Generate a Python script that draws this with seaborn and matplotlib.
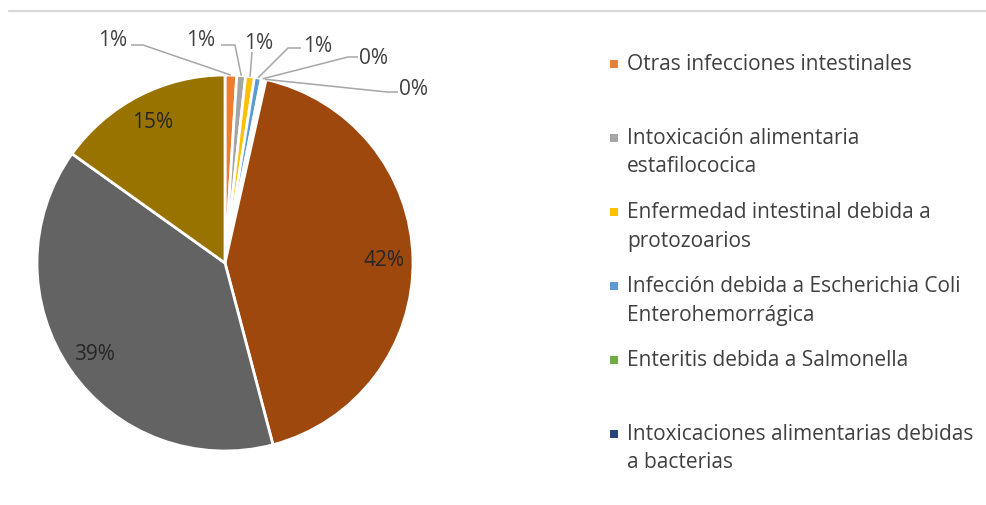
import matplotlib
matplotlib.use("Agg")
import matplotlib.pyplot as plt
from matplotlib.lines import Line2D
from matplotlib.patches import Rectangle
import numpy as np
import seaborn as sns

# Share of intestinal infection cases by cause (percent)
causes = [
    "Otras infecciones intestinales",
    "Intoxicación alimentaria\nestafilococica",
    "Enfermedad intestinal debida a\nprotozoarios",
    "Infección debida a Escherichia Coli\nEnterohemorrágica",
    "Enteritis debida a Salmonella",
    "Intoxicaciones alimentarias debidas\na bacterias",
    "Amebiasis",
    "Infecciones intestinales por otros organismos",
    "Fiebre tifoidea",
]
shares = [1.0, 0.75, 0.75, 0.6, 0.2, 0.2, 42.3, 38.9, 15.1]
colors = ["#ED7D31", "#A5A5A5", "#FFC000", "#5B9BD5", "#70AD47",
          "#264478", "#9E480E", "#636363", "#997300"]
legend_count = 6

sns.set_theme(style="white")
plt.rcParams["font.family"] = ["Open Sans", "DejaVu Sans"]

W, H = 987, 506
fig = plt.figure(figsize=(W / 100, H / 100), dpi=100)
ax = fig.add_axes([0, 0, 1, 1])

cx, cy, R = 225, H - 264, 188
wedges, _ = ax.pie(
    shares, colors=colors, startangle=90, counterclock=False,
    center=(cx, cy), radius=R, frame=True,
    wedgeprops=dict(edgecolor="white", linewidth=2.0),
)
ax.set_xlim(0, W)
ax.set_ylim(0, H)
ax.set_aspect("equal")
ax.axis("off")

total = sum(shares)
labels = [f"{v / total * 100:.0f}%" for v in shares]

def mid_dir(w):
    a = np.deg2rad((w.theta1 + w.theta2) / 2)
    return np.cos(a), np.sin(a)

# Large slices: labels inside the wedge
for i in range(6, 9):
    dx, dy = mid_dir(wedges[i])
    ax.text(cx + 0.845 * R * dx, cy + 0.845 * R * dy, labels[i],
            ha="center", va="center", fontsize=15, color="#262626")

# Small slices: labels outside with leader lines (label centre, elbow point)
outside = [
    ((113, 40), [(131, 46), (143, 46)]),
    ((201, 40), [(221, 46), (235, 46)]),
    ((259, 43), [(252, 53)]),
    ((318, 46), [(301, 49), (288, 49)]),
    ((374, 58), [(358, 58), (348, 58)]),
    ((414, 89), [(398, 93), (387, 93)]),
]
for i, ((tx, ty), pts) in enumerate(outside):
    ax.text(tx, H - ty, labels[i], ha="center", va="center",
            fontsize=15, color="#404040")
    dx, dy = mid_dir(wedges[i])
    xs = [p[0] for p in pts] + [cx + R * dx]
    ys = [H - p[1] for p in pts] + [cy + R * dy]
    ax.plot(xs, ys, color="#A6A6A6", lw=1.1, clip_on=False,
            solid_capstyle="butt")

# Legend: square marker with wrapped label, evenly spaced rows
for i in range(legend_count):
    y0 = 64.5 + 74 * i
    ax.add_patch(Rectangle((610, H - y0 - 4), 8, 8, facecolor=colors[i],
                           edgecolor="none"))
    for k, line in enumerate(causes[i].split("\n")):
        ax.text(627, H - (y0 + 28.5 * k), line, ha="left", va="center",
                fontsize=15, color="#404040")

# Chart area top border
fig.add_artist(Line2D([9 / W, 1], [1 - 12 / H] * 2, color="#D9D9D9", lw=1.6))

fig.savefig("out.png", dpi=100)
